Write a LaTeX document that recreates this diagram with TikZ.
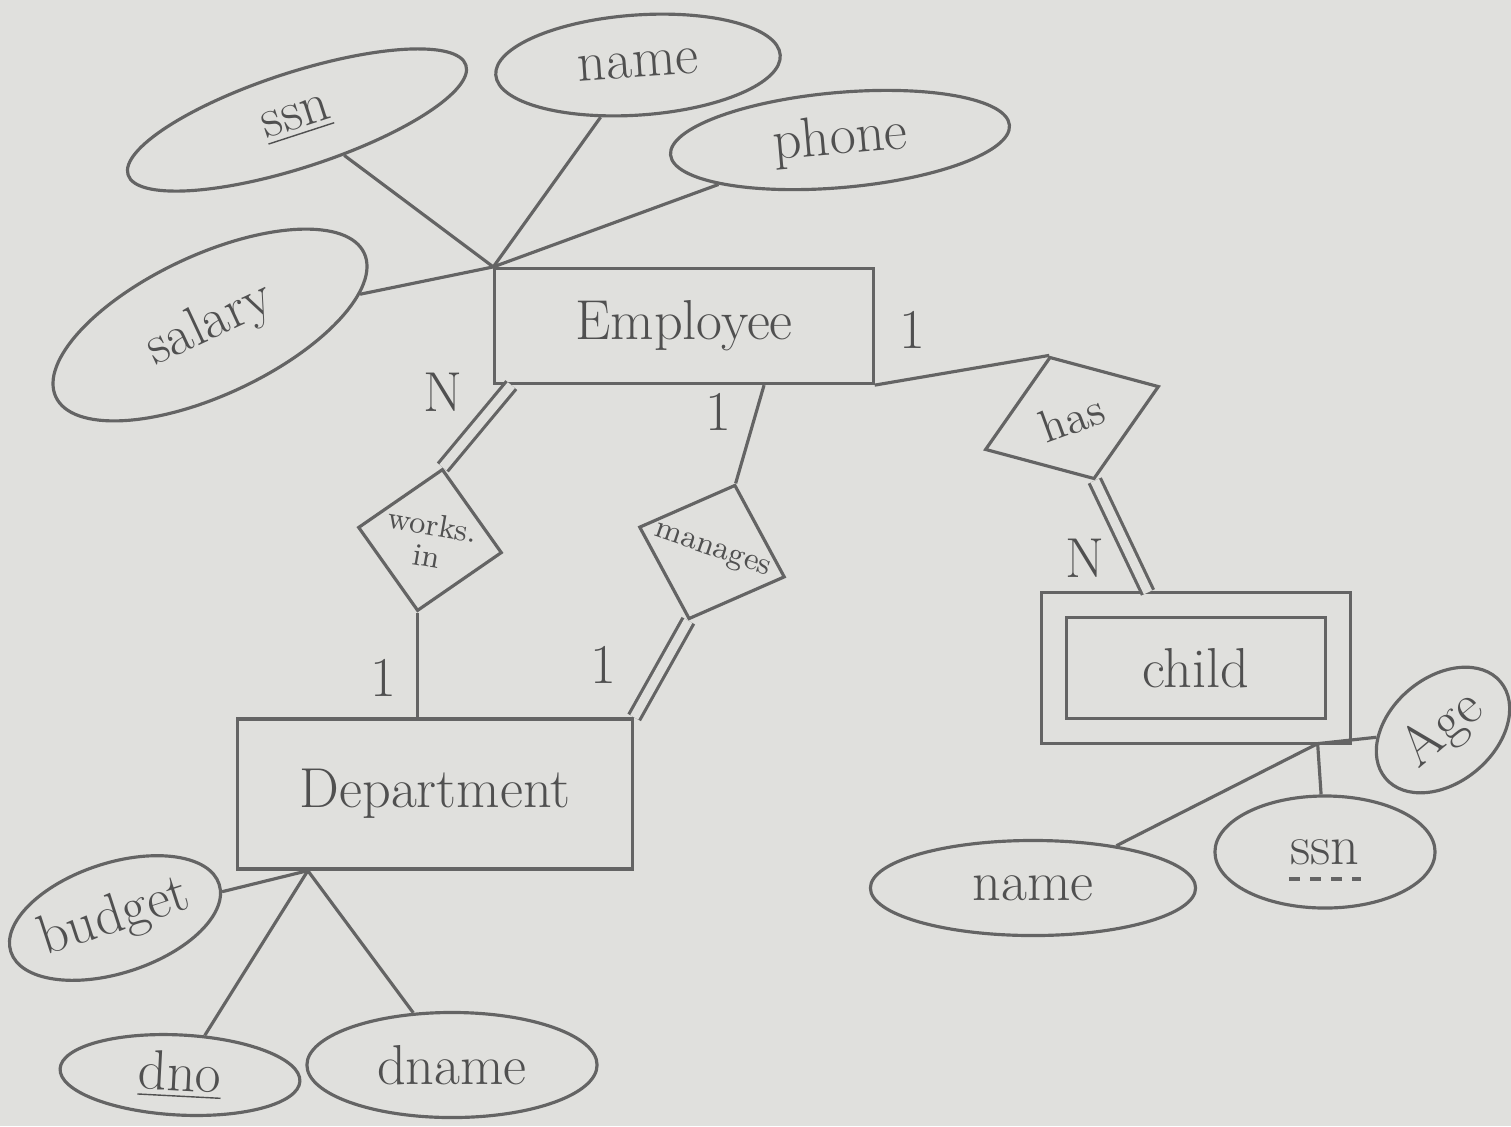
\documentclass[tikz,border=0pt]{standalone}
\usepackage{tikz}
\usetikzlibrary{shapes.geometric,positioning,calc}
\definecolor{paper}{RGB}{224,224,221}
\definecolor{pencil}{RGB}{100,100,100}

\begin{document}
\begin{tikzpicture}[x=0.01cm,y=-0.01cm,line width=0.9pt,color=pencil,
  font=\fontsize{16}{18}\selectfont,
  every node/.style={text=pencil!80!black},
  entity/.style={draw,rectangle,inner sep=0pt},
  attr/.style={draw,ellipse,inner sep=0pt},
  rel/.style={draw,diamond,inner sep=0pt,align=center,font=\fontsize{9}{9}\selectfont},
  total/.style={double=paper,double distance=2.6pt}]
\useasboundingbox (0,0) rectangle (1511,1126);
\fill[paper] (0,0) rectangle (1511,1126);
% entities
\node[entity,minimum width=3.78cm,minimum height=1.15cm](emp) at (684,326) {Employee};
\node[entity,minimum width=3.95cm,minimum height=1.5cm](dept) at (435,794) {Department};
\node[entity,total,double distance=0.22cm,minimum width=2.84cm,minimum height=1.26cm](child) at (1196,668) {child};
% relationships
\node[rel,minimum width=1.46cm,minimum height=1.12cm,rotate=-10](r_works) at (430,540) {works.\\in};
\node[rel,minimum width=1.54cm,minimum height=1.22cm,rotate=-19](r_manages) at (712,552) {manages};
\node[rel,minimum width=1.85cm,minimum height=1.3cm,rotate=20,font=\fontsize{13}{13}\selectfont](r_has) at (1072,418) {has};
% attributes
\node[attr,minimum width=3.55cm,minimum height=0.95cm,rotate=18](a_ssn) at (297,120) {\underline{ssn}};
\node[attr,minimum width=2.85cm,minimum height=1.0cm,rotate=4](a_name) at (638,65) {name};
\node[attr,minimum width=3.4cm,minimum height=0.95cm,rotate=5](a_phone) at (840,140) {phone};
\node[attr,minimum width=3.4cm,minimum height=1.4cm,rotate=25](a_salary) at (210,325) {salary};
\node[attr,minimum width=2.1cm,minimum height=1.1cm,rotate=18](a_budget) at (115,918) {budget};
\node[attr,minimum width=2.4cm,minimum height=0.8cm,rotate=-3](a_dno) at (180,1075) {\underline{dno}};
\node[attr,minimum width=2.9cm,minimum height=1.05cm](a_dname) at (452,1065) {dname};
\node[attr,minimum width=3.25cm,minimum height=0.95cm](c_name) at (1033,888) {name};
\node[attr,minimum width=2.2cm,minimum height=1.12cm](c_ssn) at (1325,852) {ssn};
\node[attr,minimum width=1.5cm,minimum height=1.05cm,rotate=40](c_age) at (1443,730) {Age};
\draw[dashed,line width=1.1pt] ([xshift=-0.36cm,yshift=-0.27cm]c_ssn.center) -- ([xshift=0.36cm,yshift=-0.27cm]c_ssn.center);
% cardinalities
\node(n_we) at (443,392) {N};
\node(n_me) at (718,412) {1};
\node(n_he) at (912,330) {1};
\node(n_wd) at (383,678) {1};
\node(n_md) at (603,665) {1};
\node(n_hc) at (1085,558) {N};
% feet
\coordinate (d_foot) at ([xshift=0.72cm]dept.south west);
\coordinate (c_foot) at ([xshift=-0.22cm,yshift=-0.11cm]child.south east);
% links
\draw (a_ssn) -- (emp.north west);
\draw (a_name) -- (emp.north west);
\draw (a_phone) -- (emp.north west);
\draw (a_salary) -- (emp.north west);
\draw[total] ([xshift=0.18cm]emp.south west) -- (r_works.north);
\draw (r_works.south) -- (r_works.south |- dept.north);
\draw ([xshift=0.8cm]emp.south) -- (r_manages.north);
\draw[total] (r_manages.south) -- (dept.north east);
\draw (emp.south east) -- (r_has.north);
\draw[total] (r_has.south) -- ([xshift=-0.48cm,yshift=0.11cm]child.north);
\draw (d_foot) -- (a_budget);
\draw (d_foot) -- (a_dno);
\draw (d_foot) -- (a_dname);
\draw (c_foot) -- (c_name);
\draw (c_foot) -- (c_ssn);
\draw (c_foot) -- (c_age);
\end{tikzpicture}
\end{document}
